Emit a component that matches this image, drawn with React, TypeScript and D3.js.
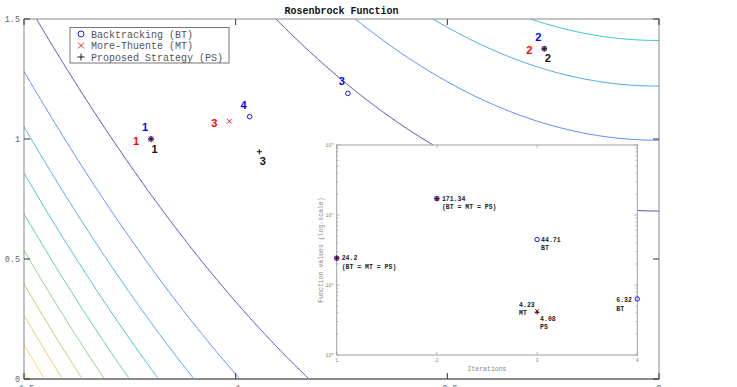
import React from 'react';
import * as d3 from 'd3';

// Rosenbrock contour plot with an inset of function values per iteration

const contourLevels = [50, 100, 150, 200, 250, 300, 350, 400, 450, 500];

const btX = [-1.2, -0.271, -0.735, -0.967];
const btY = [1, 1.376, 1.19, 1.093];
const mtX = [-1.2, -0.271, -1.015];
const mtY = [1, 1.376, 1.074];
const psX = [-1.2, -0.271, -0.944];
const psY = [1, 1.376, 0.947];

const btF = [24.2, 171.34, 44.71, 6.32];
const mtF = [24.2, 171.34, 4.23];
const psF = [24.2, 171.34, 4.08];

const xTicks = [-1.5, -1, -0.5, 0];
const xTickLabels = ['-1.5', '-1', '-0.5', '0'];
const yTicks = [0, 0.5, 1, 1.5];
const yTickLabels = ['0', '0.5', '1', '1.5'];
const insetXTicks = [1, 2, 3, 4];
const insetYTicks = [1, 10, 100, 1000];

const legendLabels = ['Backtracking (BT)', 'More-Thuente (MT)', 'Proposed Strategy (PS)'];

// inset annotations: iteration, value, two text lines
const noteIter = [1, 2, 3, 3, 3, 4];
const noteValue = [24.2, 171.34, 44.71, 4.23, 4.08, 6.32];
const noteText = ['24.2', '171.34', '44.71', '4.23', '4.08', '6.32'];
const noteSub = ['(BT = MT = PS)', '(BT = MT = PS)', 'BT', 'MT', 'PS', 'BT'];
// pixel offsets of the first line (style only)
const noteOffset = [[5, 0], [5, 0], [4, 0], [-18, -6.5], [3, 6], [-21, 1]];

const parula = ['#3e26a8', '#4743e8', '#3d6bfd', '#2797eb', '#12b5d3', '#38c49e',
  '#81cc59', '#c5be38', '#fcbc3c', '#f6dd2e', '#f9fb0e'];
const parulaColor = d3.piecewise(d3.interpolateRgb, parula);

const BLUE = '#0000ff';
const RED = '#ff0000';
const MONO = '"Liberation Mono", "DejaVu Sans Mono", monospace';
const SANS = '"Liberation Sans", Arial, sans-serif';

const width = 737;
const height = 387;
const plot = { left: 24, right: 659, top: 19, bottom: 379 };
const inset = { left: 336.7, right: 637.3, top: 145, bottom: 355 };

const rosen = (x: number, y: number) => (1 - x) ** 2 + 100 * (y - x * x) ** 2;

const Circle = ({ x, y, r, color }) =>
  <circle cx={x} cy={y} r={r} fill="none" stroke={color} strokeWidth={0.9} />;
const Cross = ({ x, y, s, color }) => (
  <g stroke={color} strokeWidth={0.9}>
    <line x1={x - s} y1={y - s} x2={x + s} y2={y + s} />
    <line x1={x - s} y1={y + s} x2={x + s} y2={y - s} />
  </g>
);
const Plus = ({ x, y, s, color }) => (
  <g stroke={color} strokeWidth={0.9}>
    <line x1={x - s} y1={y} x2={x + s} y2={y} />
    <line x1={x} y1={y - s} x2={x} y2={y + s} />
  </g>
);

export default function App() {
  const xScale = d3.scaleLinear().domain([-1.5, 0]).range([plot.left, plot.right]);
  const yScale = d3.scaleLinear().domain([0, 1.5]).range([plot.bottom, plot.top]);

  // grid slightly larger than the axes so ring edges fall outside the clip
  const step = 0.005;
  const gx0 = -1.6, gy0 = -0.1;
  const n = Math.round(1.7 / step) + 1;
  const values = new Array(n * n);
  for (let j = 0; j < n; j++) {
    for (let i = 0; i < n; i++) {
      values[j * n + i] = rosen(gx0 + i * step, gy0 + j * step);
    }
  }
  const contours = d3.contours().size([n, n]).thresholds(contourLevels)(values);
  const path = d3.geoPath(d3.geoTransform({
    point(px, py) {
      this.stream.point(xScale(gx0 + (px - 0.5) * step), yScale(gy0 + (py - 0.5) * step));
    }
  }));
  const levelT = d3.scaleLinear().domain([50, 100, 500]).range([0, 0.22, 0.93]).clamp(true);
  const levelColor = (v: number) => parulaColor(levelT(v));

  const ix = d3.scaleLinear().domain([1, 4]).range([inset.left, inset.right]);
  const iy = d3.scaleLog().domain([1, 1000]).range([inset.bottom, inset.top]);
  const minorTicks = iy.ticks().filter(t => !insetYTicks.includes(t));

  const mainLabel = (x, y, text, color, dx, dy, key) => (
    <text key={key} x={xScale(x) + dx} y={yScale(y) + dy + 4} fill={color}
      fontFamily={SANS} fontWeight="bold" fontSize={11} textAnchor="middle">{text}</text>
  );

  return (
    <svg width={width} height={height} style={{ display: 'block' }}>
      <style>{'body{margin:0}'}</style>
      <defs>
        <clipPath id="plotClip">
          <rect x={plot.left} y={plot.top} width={plot.right - plot.left} height={plot.bottom - plot.top} />
        </clipPath>
      </defs>
      <rect width={width} height={height} fill="#fff" />

      <g clipPath="url(#plotClip)" fill="none">
        {contours.map(c => (
          <path key={c.value} d={path(c)} stroke={levelColor(c.value)} strokeWidth={1} strokeOpacity={0.85} />
        ))}
      </g>

      {/* main axes box and ticks */}
      <rect x={plot.left} y={plot.top} width={plot.right - plot.left} height={plot.bottom - plot.top}
        fill="none" stroke="#8a8a8a" strokeWidth={1} />
      <line x1={plot.left} x2={plot.right} y1={plot.bottom} y2={plot.bottom} stroke="#8a8a8a" strokeWidth={2} />
      <g stroke="#333" strokeWidth={1}>
        {xTicks.map(t => (
          <g key={t}>
            <line x1={xScale(t)} x2={xScale(t)} y1={plot.bottom} y2={plot.bottom - 6} />
            <line x1={xScale(t)} x2={xScale(t)} y1={plot.top} y2={plot.top + 6} />
          </g>
        ))}
        {yTicks.map(t => (
          <g key={t}>
            <line x1={plot.left} x2={plot.left + 6} y1={yScale(t)} y2={yScale(t)} />
            <line x1={plot.right} x2={plot.right - 6} y1={yScale(t)} y2={yScale(t)} />
          </g>
        ))}
      </g>
      <g fontFamily={MONO} fontSize={8.5} fill="#666">
        {yTicks.map((t, i) => (
          <text key={t} x={plot.left - 4} y={yScale(t) + 3} textAnchor="end">{yTickLabels[i]}</text>
        ))}
        {xTicks.map((t, i) => (
          <text key={t} x={xScale(t)} y={391} textAnchor="middle">{xTickLabels[i]}</text>
        ))}
      </g>

      <text x={(plot.left + plot.right) / 2} y={14} textAnchor="middle" fontFamily={MONO}
        fontWeight="bold" fontSize={10} fill="#111">Rosenbrock Function</text>

      {/* iterate markers */}
      {btX.map((x, i) => <Circle key={'bc' + i} x={xScale(x)} y={yScale(btY[i])} r={2.3} color={BLUE} />)}
      {mtX.map((x, i) => <Cross key={'mc' + i} x={xScale(x)} y={yScale(mtY[i])} s={2.3} color={RED} />)}
      {psX.map((x, i) => <Plus key={'pc' + i} x={xScale(x)} y={yScale(psY[i])} s={2.6} color="#000" />)}
      {btX.map((x, i) => mainLabel(x, btY[i], String(i + 1), BLUE, -6, -12, 'bl' + i))}
      {mtX.map((x, i) => mainLabel(x, mtY[i], String(i + 1), RED, -15, 1.5, 'ml' + i))}
      {psX.map((x, i) => mainLabel(x, psY[i], String(i + 1), '#111', 3.5, 9.5, 'pl' + i))}

      {/* legend */}
      <rect x={70} y={27.5} width={159} height={35.5} fill="#fff" stroke="#555" strokeWidth={0.8} />
      <Circle x={81} y={34} r={3} color={BLUE} />
      <Cross x={81} y={45.5} s={3} color={RED} />
      <Plus x={81} y={57} s={3.5} color="#000" />
      <g fontFamily={MONO} fontSize={10} fill="#555">
        {legendLabels.map((l, i) => (
          <text key={l} x={91} y={37.5 + i * 11.5}>{l}</text>
        ))}
      </g>

      {/* inset */}
      <rect x={inset.left} y={inset.top} width={inset.right - inset.left} height={inset.bottom - inset.top}
        fill="#fff" stroke="#a0a0a0" strokeWidth={1} />
      <g stroke="#999" strokeWidth={0.7}>
        {insetXTicks.map(t => (
          <g key={t}>
            <line x1={ix(t)} x2={ix(t)} y1={inset.bottom} y2={inset.bottom - 3} />
            <line x1={ix(t)} x2={ix(t)} y1={inset.top} y2={inset.top + 3} />
          </g>
        ))}
        {insetYTicks.map(t => (
          <g key={t}>
            <line x1={inset.left} x2={inset.left + 3} y1={iy(t)} y2={iy(t)} />
            <line x1={inset.right} x2={inset.right - 3} y1={iy(t)} y2={iy(t)} />
          </g>
        ))}
        {minorTicks.map(t => (
          <g key={'m' + t}>
            <line x1={inset.left} x2={inset.left + 1.8} y1={iy(t)} y2={iy(t)} />
            <line x1={inset.right} x2={inset.right - 1.8} y1={iy(t)} y2={iy(t)} />
          </g>
        ))}
      </g>
      <g fontFamily={MONO} fill="#888">
        {insetXTicks.map(t => (
          <text key={t} x={ix(t)} y={362} fontSize={5} textAnchor="middle">{t}</text>
        ))}
        {insetYTicks.map(t => (
          <text key={t} x={inset.left - 3} y={iy(t) + 1.5} fontSize={5} textAnchor="end">
            10<tspan dy={-2} fontSize={3.5}>{Math.round(Math.log10(t))}</tspan>
          </text>
        ))}
        <text x={(inset.left + inset.right) / 2} y={370.5} fontSize={6.5} textAnchor="middle">Iterations</text>
        <text transform={`translate(${inset.left - 14},${(inset.top + inset.bottom) / 2}) rotate(-90)`}
          fontSize={6.5} textAnchor="middle">Function values (log-scale)</text>
      </g>

      {btF.map((v, i) => <Circle key={'ib' + i} x={ix(i + 1)} y={iy(v)} r={2.2} color={BLUE} />)}
      {mtF.map((v, i) => <Cross key={'im' + i} x={ix(i + 1)} y={iy(v)} s={2.2} color={RED} />)}
      {psF.map((v, i) => <Plus key={'ip' + i} x={ix(i + 1)} y={iy(v)} s={2.4} color="#000" />)}

      <g fontFamily={MONO} fontWeight="bold" fontSize={6.5} fill="#222">
        {noteIter.map((it, i) => {
          const x = ix(it) + noteOffset[i][0];
          const y = iy(noteValue[i]) + noteOffset[i][1] + 2.3;
          return (
            <g key={i}>
              <text x={x} y={y}>{noteText[i]}</text>
              <text x={x} y={y + 8.5}>{noteSub[i]}</text>
            </g>
          );
        })}
      </g>
    </svg>
  );
}
